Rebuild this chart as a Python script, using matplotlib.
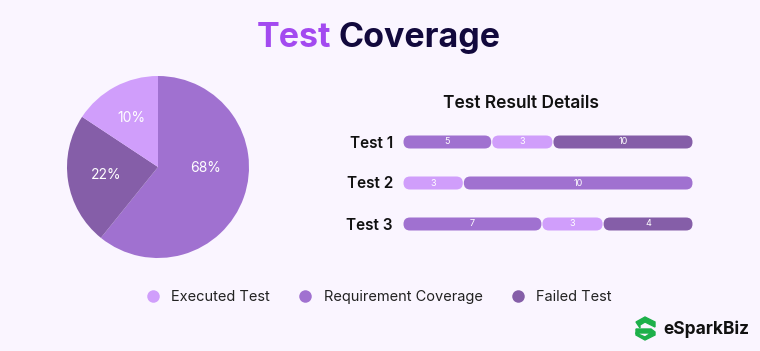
import numpy as np
import matplotlib.pyplot as plt
from matplotlib.patches import FancyBboxPatch, Polygon
from matplotlib.lines import Line2D

plt.rcParams['font.family'] = ['Inter', 'DejaVu Sans']

# 数据
categories = ['Executed Test', 'Requirement Coverage', 'Failed Test']
colors = ['#D09EFB', '#A071D0', '#855EA8']
# 饼图扇区大小按图中角度读取（顺时针从顶部：Requirement, Failed, Executed）
pie_sizes = [60.8, 23.5, 15.7]
pie_labels = ['68%', '22%', '10%']
pie_order = [1, 2, 0]

tests = ['Test 1', 'Test 2', 'Test 3']
seg_cats = [[1, 0, 2], [0, 1], [1, 0, 2]]
seg_values = [[5, 3, 10], [3, 10], [7, 3, 4]]
# 各段在条形中的宽度占比（%）
seg_widths = [[30.6, 21.1, 48.3], [20.8, 79.2], [47.9, 21.1, 31.0]]

bg = '#FAF5FF'
W, H = 760, 351
fig = plt.figure(figsize=(W / 100, H / 100), dpi=100, facecolor=bg)

# 标题
fig.text(331 / W, 1 - 38 / H, 'Test', ha='right', va='center', fontsize=24.5,
         fontweight='bold', color='#A34AF0')
fig.text(339 / W, 1 - 38 / H, 'Coverage', ha='left', va='center', fontsize=24.5,
         fontweight='bold', color='#12093D')

# 饼图
ax_pie = fig.add_axes([67 / W, 1 - 258 / H, 182 / W, 182 / H])
ax_pie.set_facecolor(bg)
wedges, texts = ax_pie.pie(
    pie_sizes, colors=[colors[i] for i in pie_order], startangle=90,
    counterclock=False, wedgeprops=dict(linewidth=0))
ax_pie.set_xlim(-1, 1)
ax_pie.set_ylim(-1, 1)
label_r = [0.52, 0.58, 0.61]
for i, w in enumerate(wedges):
    ang = np.deg2rad((w.theta1 + w.theta2) / 2)
    if i == 0:
        ang = np.deg2rad(-1.5)  # 68% 标签在图中偏向水平方向
    ax_pie.text(label_r[i] * np.cos(ang), label_r[i] * np.sin(ang), pie_labels[i],
                ha='center', va='center', color='white', fontsize=10)

# 条形图
ax_bar = fig.add_axes([403 / W, 1 - 244.5 / H, 290 / W, 123 / H])
ax_bar.set_facecolor('none')
ax_bar.set_xlim(0, 100)
ax_bar.set_ylim(2.5, -0.5)
ax_bar.axis('off')
px_x = 100 / 290
px_y = 1 / 41
bar_h = 13 * px_y
aspect = px_y / px_x
for row in range(len(tests)):
    left = 0
    for ci, v, w in zip(seg_cats[row], seg_values[row], seg_widths[row]):
        x0 = left + 0.5 * px_x
        x1 = left + w - 0.5 * px_x
        patch = FancyBboxPatch((x0, row - bar_h / 2), x1 - x0, bar_h,
                               boxstyle='round,pad=0,rounding_size=%f' % (6.5 * px_x),
                               mutation_aspect=aspect, facecolor=colors[ci],
                               edgecolor='none')
        ax_bar.add_patch(patch)
        ax_bar.text(left + w / 2, row, str(v), ha='center', va='center',
                    fontsize=6.5, color='white')
        left += w
    fig.text(393 / W, 1 - (143 + 41 * row) / H, tests[row], ha='right', va='center',
             fontsize=11, fontweight='semibold', color='#111111')

fig.text(521 / W, 1 - 104 / H, 'Test Result Details', ha='center', va='center',
         fontsize=12.5, fontweight='semibold', color='#111111')

# 图例
handles = [Line2D([], [], marker='o', linestyle='none', markersize=9,
                  markerfacecolor=c, markeredgewidth=0) for c in colors]
fig.legend(handles, categories, loc='center', bbox_to_anchor=(375 / W, 1 - 297 / H),
           ncol=3, frameon=False, fontsize=10.5, handletextpad=0.25,
           columnspacing=1.45, labelcolor='#222222')

# logo
ax_logo = fig.add_axes([0, 0, 1, 1])
ax_logo.set_xlim(0, W)
ax_logo.set_ylim(H, 0)
ax_logo.axis('off')
green = '#1DB04A'
ax_logo.add_patch(Polygon([[636, 322], [645, 317], [655, 322], [655, 327], [645, 322],
                           [640, 325], [640, 328]], closed=True, color=green))
ax_logo.add_patch(Polygon([[636, 329], [651, 329], [655, 332], [655, 335], [645, 340],
                           [636, 335], [636, 333], [645, 337], [651, 333], [636, 333]],
                          closed=True, color=green))
ax_logo.text(663, 329, 'eSparkBiz', ha='left', va='center', fontsize=12.5,
             fontweight='bold', color='#111111')

fig.savefig('out.png', dpi=100, facecolor=bg)
